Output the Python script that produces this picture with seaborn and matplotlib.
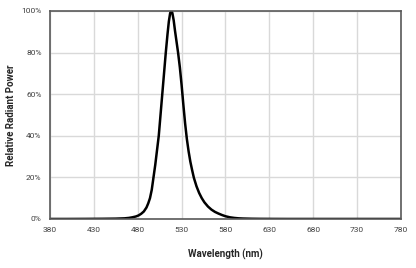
import matplotlib
matplotlib.use('Agg')
import matplotlib.pyplot as plt
import seaborn as sns
import pandas as pd
from matplotlib.ticker import PercentFormatter

# spectrum
wavelength = [380, 400, 420, 440, 455, 465, 470, 474, 478, 481, 484, 487, 490, 492,
              494, 496, 498, 500, 502, 504, 506, 508, 510, 512, 514, 515.5, 517,
              518.3, 519.5, 521, 522.5, 524, 526, 528, 530, 532, 534, 536, 538, 540,
              542, 544, 547, 550, 553, 556, 560, 564, 568, 572, 576, 580, 585, 590,
              595, 600, 610, 620, 635, 650, 680, 720, 780]
power = [0, 0, 0.0003, 0.0008, 0.0015, 0.003, 0.005, 0.008, 0.012, 0.017, 0.025,
         0.036, 0.055, 0.075, 0.10, 0.14, 0.20, 0.26, 0.33, 0.40, 0.50, 0.60, 0.70,
         0.80, 0.89, 0.95, 0.99, 1.0, 0.99, 0.955, 0.905, 0.86, 0.80, 0.73, 0.645,
         0.55, 0.46, 0.385, 0.325, 0.275, 0.235, 0.198, 0.157, 0.125, 0.10, 0.08, 0.06,
         0.045, 0.034, 0.026, 0.019, 0.013, 0.008, 0.005, 0.003, 0.002, 0.001,
         0.0005, 0.0002, 0, 0, 0, 0]
x_ticks = [380, 430, 480, 530, 580, 630, 680, 730, 780]
y_ticks = [0, 0.2, 0.4, 0.6, 0.8, 1.0]

df = pd.DataFrame({'wl': wavelength, 'power': power})

sns.set_style('white')
plt.rcParams['font.family'] = ['Roboto', 'DejaVu Sans']

fig = plt.figure(figsize=(4.16, 2.68), dpi=100)
ax = fig.add_axes([0.12, 0.183, 0.844, 0.776])

sns.lineplot(data=df, x='wl', y='power', color='black', linewidth=1.8,
             solid_joinstyle='round', ax=ax)

ax.set_xlim(380, 780)
ax.set_ylim(0, 1.0)
ax.set_xticks(x_ticks)
ax.set_yticks(y_ticks)
ax.yaxis.set_major_formatter(PercentFormatter(1.0, decimals=0))
ax.grid(True, color='#d9d9d9', linewidth=1)
ax.set_axisbelow(True)
for s in ax.spines.values():
    s.set_color('#595959')
    s.set_linewidth(1.2)
ax.tick_params(length=0, labelsize=6, colors='#404040', pad=6)

ax.set_xlabel('Wavelength (nm)', fontsize=7, fontweight='bold', labelpad=11)
ax.set_ylabel('Relative Radiant Power', fontsize=7, fontweight='bold', labelpad=4)

fig.savefig('out.png', dpi=100)
